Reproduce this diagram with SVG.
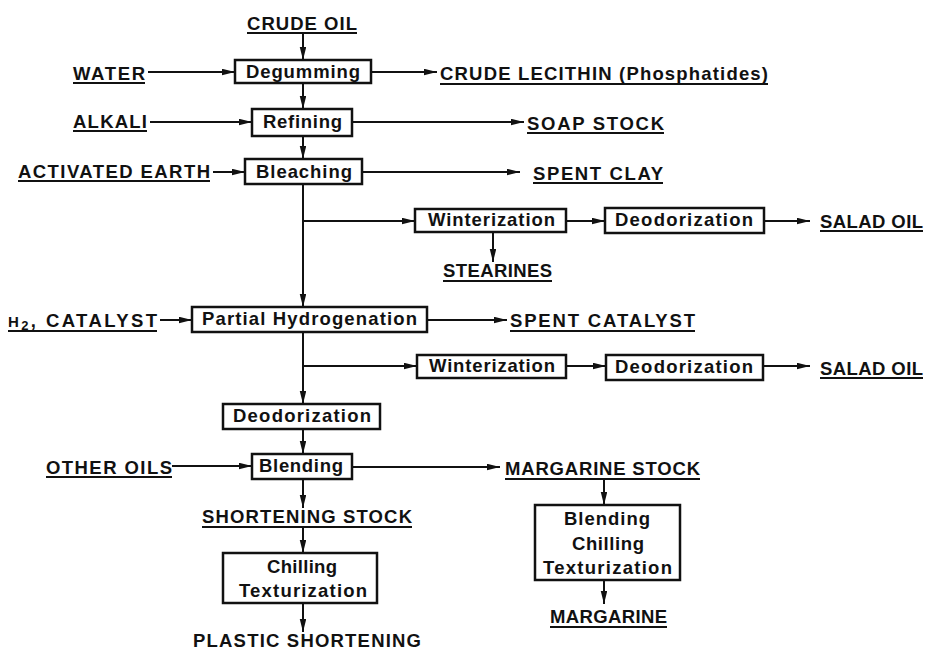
<svg xmlns="http://www.w3.org/2000/svg" width="930" height="650" viewBox="0 0 930 650">
<style>
text{font-family:"Liberation Sans",Arial,sans-serif;font-weight:bold;font-size:18.5px;fill:#111}
.box{fill:#fff;stroke:#111;stroke-width:2.5}
.ul{stroke:#111;stroke-width:2}
.c line,.c path{stroke:#111;stroke-width:2;fill:none}
</style>
<defs>
<marker id="ah" markerUnits="userSpaceOnUse" markerWidth="14" markerHeight="7" refX="13" refY="3.25" orient="auto">
<path d="M0,0 L13,3.25 L0,6.5 z" fill="#111"/>
</marker>
</defs>
<rect width="930" height="650" fill="#fff"/>
<g class="c" id="connectors">
<line x1="303" y1="34" x2="303" y2="60" marker-end="url(#ah)"/>
<line x1="148" y1="72" x2="235" y2="72" marker-end="url(#ah)"/>
<line x1="371" y1="72" x2="437" y2="72" marker-end="url(#ah)"/>
<line x1="303" y1="83" x2="303" y2="109" marker-end="url(#ah)"/>
<line x1="150" y1="122" x2="252" y2="122" marker-end="url(#ah)"/>
<line x1="352" y1="122" x2="524" y2="122" marker-end="url(#ah)"/>
<line x1="303" y1="136" x2="303" y2="159" marker-end="url(#ah)"/>
<line x1="213" y1="172" x2="245" y2="172" marker-end="url(#ah)"/>
<line x1="362" y1="172" x2="520" y2="172" marker-end="url(#ah)"/>
<line x1="303" y1="184" x2="303" y2="307" marker-end="url(#ah)"/>
<line x1="303" y1="221" x2="415" y2="221" marker-end="url(#ah)"/>
<line x1="566" y1="221" x2="605" y2="221" marker-end="url(#ah)"/>
<line x1="764" y1="221" x2="810" y2="221" marker-end="url(#ah)"/>
<line x1="493" y1="232" x2="493" y2="262" marker-end="url(#ah)"/>
<line x1="160" y1="320" x2="192" y2="320" marker-end="url(#ah)"/>
<line x1="427" y1="320" x2="507" y2="320" marker-end="url(#ah)"/>
<line x1="303" y1="332" x2="303" y2="404" marker-end="url(#ah)"/>
<line x1="303" y1="366" x2="417" y2="366" marker-end="url(#ah)"/>
<line x1="566" y1="366" x2="606" y2="366" marker-end="url(#ah)"/>
<line x1="763" y1="366" x2="810" y2="366" marker-end="url(#ah)"/>
<line x1="303" y1="429" x2="303" y2="454" marker-end="url(#ah)"/>
<line x1="172" y1="466" x2="252" y2="466" marker-end="url(#ah)"/>
<line x1="352" y1="467" x2="500" y2="467" marker-end="url(#ah)"/>
<line x1="303" y1="479" x2="303" y2="508" marker-end="url(#ah)"/>
<line x1="303" y1="528" x2="303" y2="553" marker-end="url(#ah)"/>
<line x1="303" y1="603" x2="303" y2="632" marker-end="url(#ah)"/>
<line x1="604" y1="480" x2="604" y2="505" marker-end="url(#ah)"/>
<line x1="604" y1="580" x2="604" y2="604" marker-end="url(#ah)"/>
</g>
<g id="crude-oil"><text x="247" y="30" textLength="110" lengthAdjust="spacing">CRUDE OIL</text><line class="ul" x1="247" y1="33" x2="357" y2="33"/></g>
<g id="water"><text x="73" y="80" textLength="72" lengthAdjust="spacing">WATER</text><line class="ul" x1="73" y1="83" x2="145" y2="83"/></g>
<g id="degumming"><rect class="box" x="235" y="60" width="136" height="23"/><text x="246" y="78" textLength="114" lengthAdjust="spacing">Degumming</text></g>
<g id="lecithin"><text x="440" y="80" textLength="328" lengthAdjust="spacing">CRUDE LECITHIN (Phosphatides)</text><line class="ul" x1="440" y1="84" x2="768" y2="84"/></g>
<g id="alkali"><text x="73" y="128" textLength="74" lengthAdjust="spacing">ALKALI</text><line class="ul" x1="73" y1="131" x2="147" y2="131"/></g>
<g id="refining"><rect class="box" x="252" y="109" width="100" height="27"/><text x="263" y="128" textLength="79" lengthAdjust="spacing">Refining</text></g>
<g id="soap-stock"><text x="527" y="130" textLength="137" lengthAdjust="spacing">SOAP STOCK</text><line class="ul" x1="527" y1="133" x2="664" y2="133"/></g>
<g id="activated-earth"><text x="18" y="178" textLength="192" lengthAdjust="spacing">ACTIVATED EARTH</text><line class="ul" x1="18" y1="181" x2="210" y2="181"/></g>
<g id="bleaching"><rect class="box" x="245" y="159" width="117" height="25"/><text x="256" y="178" textLength="96" lengthAdjust="spacing">Bleaching</text></g>
<g id="spent-clay"><text x="533" y="180" textLength="130" lengthAdjust="spacing">SPENT CLAY</text><line class="ul" x1="533" y1="183" x2="663" y2="183"/></g>
<g id="winterization-1"><rect class="box" x="415" y="209" width="151" height="23"/><text x="428" y="226" textLength="127" lengthAdjust="spacing">Winterization</text></g>
<g id="deodorization-1"><rect class="box" x="605" y="208" width="159" height="25"/><text x="615" y="226" textLength="138" lengthAdjust="spacing">Deodorization</text></g>
<g id="salad-oil-1"><text x="820" y="228" textLength="103" lengthAdjust="spacing">SALAD OIL</text><line class="ul" x1="820" y1="231" x2="923" y2="231"/></g>
<g id="stearines"><text x="443" y="277" textLength="109" lengthAdjust="spacing">STEARINES</text><line class="ul" x1="443" y1="281" x2="552" y2="281"/></g>
<g id="h2-catalyst"><text x="8" y="327" textLength="149" lengthAdjust="spacing"><tspan font-size="15">H</tspan><tspan font-size="13" dy="3">2</tspan><tspan dy="-3">, CATALYST</tspan></text><line class="ul" x1="8" y1="331" x2="157" y2="331"/></g>
<g id="partial-hydrogenation"><rect class="box" x="192" y="307" width="235" height="25"/><text x="202" y="325" textLength="215" lengthAdjust="spacing">Partial Hydrogenation</text></g>
<g id="spent-catalyst"><text x="510" y="327" textLength="185" lengthAdjust="spacing">SPENT CATALYST</text><line class="ul" x1="510" y1="331" x2="695" y2="331"/></g>
<g id="winterization-2"><rect class="box" x="417" y="355" width="149" height="23"/><text x="429" y="372" textLength="126" lengthAdjust="spacing">Winterization</text></g>
<g id="deodorization-2"><rect class="box" x="606" y="355" width="157" height="25"/><text x="615" y="373" textLength="138" lengthAdjust="spacing">Deodorization</text></g>
<g id="salad-oil-2"><text x="820" y="375" textLength="103" lengthAdjust="spacing">SALAD OIL</text><line class="ul" x1="820" y1="378" x2="923" y2="378"/></g>
<g id="deodorization-main"><rect class="box" x="223" y="404" width="157" height="25"/><text x="233" y="422" textLength="138" lengthAdjust="spacing">Deodorization</text></g>
<g id="other-oils"><text x="46" y="474" textLength="126" lengthAdjust="spacing">OTHER OILS</text><line class="ul" x1="46" y1="477" x2="172" y2="477"/></g>
<g id="blending"><rect class="box" x="252" y="454" width="100" height="25"/><text x="259" y="472" textLength="84" lengthAdjust="spacing">Blending</text></g>
<g id="margarine-stock"><text x="505" y="475" textLength="195" lengthAdjust="spacing">MARGARINE STOCK</text><line class="ul" x1="505" y1="479" x2="700" y2="479"/></g>
<g id="shortening-stock"><text x="202" y="523" textLength="210" lengthAdjust="spacing">SHORTENING STOCK</text><line class="ul" x1="202" y1="527" x2="412" y2="527"/></g>
<g id="chilling-texturization"><rect class="box" x="223" y="553" width="154" height="50"/><text x="267" y="573" textLength="70" lengthAdjust="spacing">Chilling</text><text x="239" y="597" textLength="128" lengthAdjust="spacing">Texturization</text></g>
<g id="plastic-shortening"><text x="193" y="647" textLength="228" lengthAdjust="spacing">PLASTIC SHORTENING</text></g>
<g id="margarine-process"><rect class="box" x="535" y="505" width="145" height="75"/><text x="564" y="525" textLength="86" lengthAdjust="spacing">Blending</text><text x="572" y="550" textLength="72" lengthAdjust="spacing">Chilling</text><text x="543" y="574" textLength="129" lengthAdjust="spacing">Texturization</text></g>
<g id="margarine"><text x="550" y="623" textLength="117" lengthAdjust="spacing">MARGARINE</text><line class="ul" x1="550" y1="627" x2="667" y2="627"/></g>
</svg>
